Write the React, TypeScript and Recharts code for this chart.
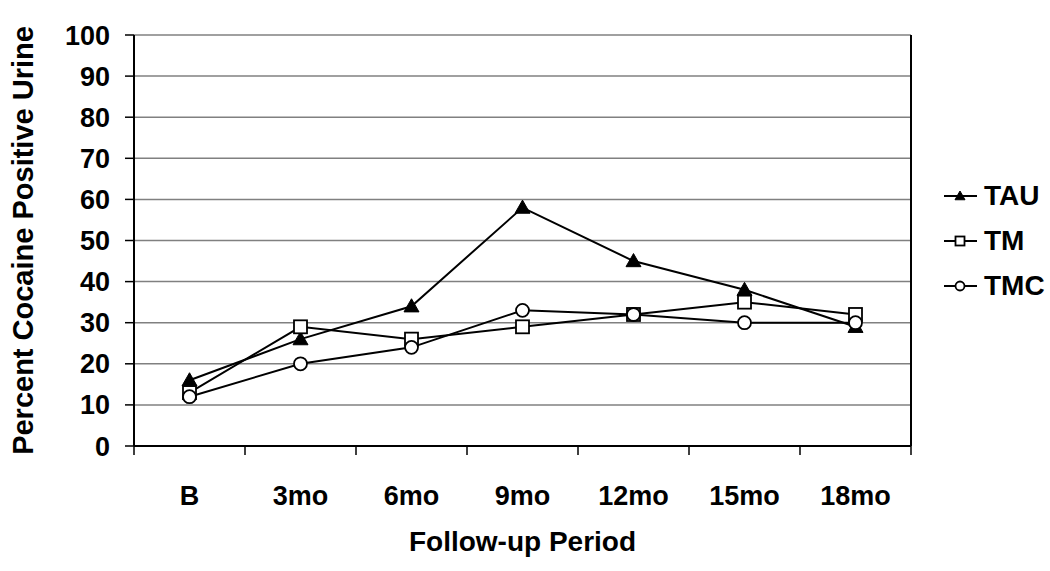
import React from 'react';
import {
  LineChart, Line, XAxis, YAxis, CartesianGrid, Legend, ReferenceLine, Label,
} from 'recharts';

const periods = ['B', '3mo', '6mo', '9mo', '12mo', '15mo', '18mo'];
const tauValues = [16, 26, 34, 58, 45, 38, 29];
const tmValues = [13, 29, 26, 29, 32, 35, 32];
const tmcValues = [12, 20, 24, 33, 32, 30, 30];
const yTicks = [0, 10, 20, 30, 40, 50, 60, 70, 80, 90, 100];

// each period sits in the middle of its slot, tick marks on the slot edges
const centers = periods.map((_, i) => i + 0.5);
const edges = periods.map((_, i) => i).concat(periods.length);

const chartData = periods.map((p, i) => ({
  period: p,
  pos: centers[i],
  TAU: tauValues[i],
  TM: tmValues[i],
  TMC: tmcValues[i],
}));

const FONT = '"Liberation Sans", Arial, sans-serif';

const Triangle = ({ cx, cy, s = 7.5 }: any) => (
  <polygon
    points={`${cx},${cy - s} ${cx - s},${cy + s * 0.75} ${cx + s},${cy + s * 0.75}`}
    fill="#000"
    stroke="#000"
    strokeWidth={1}
  />
);
const Square = ({ cx, cy, s = 6.5 }: any) => (
  <rect x={cx - s} y={cy - s} width={s * 2} height={s * 2} fill="#fff" stroke="#000" strokeWidth={1.8} />
);
const Circle = ({ cx, cy, r = 6.5 }: any) => (
  <circle cx={cx} cy={cy} r={r} fill="#fff" stroke="#000" strokeWidth={1.8} />
);

const series = [
  { key: 'TAU', Marker: Triangle },
  { key: 'TM', Marker: Square },
  { key: 'TMC', Marker: Circle },
];

const renderLegend = () => (
  <div style={{ fontFamily: FONT, fontWeight: 'bold', fontSize: 28, color: '#000' }}>
    {series.map(({ key }) => (
      <div key={key} style={{ display: 'flex', alignItems: 'center', height: 45 }}>
        <svg width={38} height={20} style={{ marginRight: 4 }}>
          <line x1={2} y1={10} x2={35} y2={10} stroke="#000" strokeWidth={2} />
          {key === 'TAU' && <Triangle cx={18} cy={10} s={5} />}
          {key === 'TM' && <Square cx={18} cy={10} s={4.5} />}
          {key === 'TMC' && <Circle cx={18} cy={10} r={4.5} />}
        </svg>
        <span>{key}</span>
      </div>
    ))}
  </div>
);

const renderYTitle = ({ viewBox }: any) => {
  const x = viewBox.x + 23;
  const y = viewBox.y + viewBox.height / 2;
  return (
    <text
      x={x}
      y={y}
      transform={`rotate(-90, ${x}, ${y})`}
      textAnchor="middle"
      dy="0.36em"
      fontFamily={FONT}
      fontWeight="bold"
      fontSize={29}
      fill="#000"
    >
      Percent Cocaine Positive Urine
    </text>
  );
};

export default function App() {
  return (
    <div style={{ position: 'absolute', left: 0, top: 0, background: '#fff' }}>
      <LineChart width={1050} height={571} data={chartData} margin={{ top: 35, right: 139, left: 0, bottom: 0 }}>
        <CartesianGrid vertical={false} stroke="#808080" strokeWidth={1.5} />
        <XAxis
          xAxisId="edges"
          type="number"
          dataKey="pos"
          domain={[0, periods.length]}
          ticks={edges}
          interval={0}
          tickFormatter={() => ''}
          tickSize={9}
          height={10}
          axisLine={{ stroke: '#000', strokeWidth: 2 }}
          tickLine={{ stroke: '#000', strokeWidth: 1.5 }}
        />
        <XAxis
          xAxisId="labels"
          type="number"
          dataKey="pos"
          domain={[0, periods.length]}
          ticks={centers}
          interval={0}
          tickFormatter={(v: number) => periods[Math.round(v - 0.5)]}
          tickLine={false}
          tickSize={0}
          tickMargin={30}
          height={115}
          axisLine={false}
          tick={{ fill: '#000', fontSize: 27, fontWeight: 'bold', fontFamily: FONT }}
        >
          <Label
            value="Follow-up Period"
            position="insideBottom"
            offset={20}
            style={{ fill: '#000', fontSize: 28, fontWeight: 'bold', fontFamily: FONT }}
          />
        </XAxis>
        <YAxis
          type="number"
          domain={[0, 100]}
          ticks={yTicks}
          interval={0}
          width={134}
          tickSize={9}
          tickMargin={15}
          axisLine={{ stroke: '#000', strokeWidth: 2 }}
          tickLine={{ stroke: '#000', strokeWidth: 1.5 }}
          tick={{ fill: '#000', fontSize: 27, fontWeight: 'bold', fontFamily: FONT }}
        >
          <Label content={renderYTitle} />
        </YAxis>
        <ReferenceLine xAxisId="labels" x={periods.length} stroke="#000" strokeWidth={2} />
        <Legend
          layout="horizontal"
          align="center"
          verticalAlign="middle"
          content={renderLegend}
          wrapperStyle={{ position: 'absolute', left: 942, top: 173, width: 108 }}
        />
        {series.map(({ key, Marker }) => (
          <Line
            key={key}
            xAxisId="labels"
            type="linear"
            dataKey={key}
            stroke="#000"
            strokeWidth={2}
            dot={(p: any) => <Marker key={`${key}-${p.index}`} cx={p.cx} cy={p.cy} />}
            activeDot={false}
            isAnimationActive={false}
          />
        ))}
      </LineChart>
    </div>
  );
}
